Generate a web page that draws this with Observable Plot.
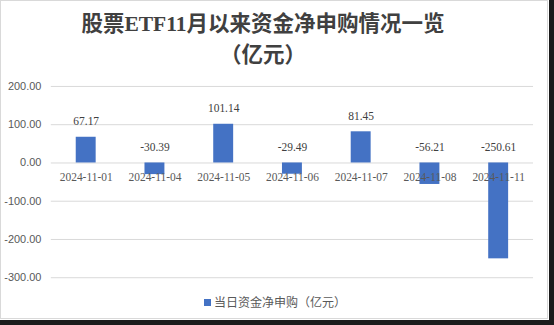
<!DOCTYPE html>
<html>
<head>
<meta charset="utf-8">
<script src="https://cdn.jsdelivr.net/npm/d3@7"></script>
<script src="https://cdn.jsdelivr.net/npm/@observablehq/plot@0.6"></script>
<style>
  html, body { margin: 0; padding: 0; }
  body { width: 554px; height: 325px; background: #1b1b1b; overflow: hidden; }
  #frame { position: absolute; left: 0; top: 0; width: 549px; height: 320px; background: #fff; }
  #card { position: absolute; left: 0; top: 0; width: 548px; height: 319px; box-sizing: border-box;
          border: 1px solid #d9d9d9; background: #fff; }
  .title { position: absolute; left: 0; width: 524px; text-align: center; color: #404040;
           font-family: "Liberation Serif", "Noto Sans CJK SC", sans-serif; font-weight: bold; font-size: 21.5px; line-height: 26px; }
  #chart { position: absolute; left: 0; top: 70px; }
  #legend { position: absolute; left: 203px; top: 293px; font-family: "Noto Sans CJK SC", sans-serif;
            font-size: 12px; color: #595959; line-height: 16px; display: flex; align-items: center; }
  #legend .sw { width: 7px; height: 7px; background: #4472C4; margin-right: 3px; }
</style>
</head>
<body>
<div id="frame"><div id="card">
  <div class="title" style="top:10px">股票ETF11月以来资金净申购情况一览</div>
  <div class="title" style="top:41px">（亿元）</div>
  <div id="chart"></div>
  <div id="legend"><span class="sw"></span><span>当日资金净申购（亿元）</span></div>
</div></div>
<script>
// Trading days in November and the net subscription of equity ETFs (100 million yuan)
const dates = ["2024-11-01", "2024-11-04", "2024-11-05", "2024-11-06", "2024-11-07", "2024-11-08", "2024-11-11"];
const flows = [67.17, -30.39, 101.14, -29.49, 81.45, -56.21, -250.61];
const yTicks = [200, 100, 0, -100, -200, -300];

const rows = dates.map((date, i) => ({date, value: flows[i]}));
const fmt = d => d.toFixed(2);

const chart = Plot.plot({
  width: 548,
  height: 220,
  marginLeft: 50,
  marginRight: 14,
  marginTop: 15,
  marginBottom: 13,
  style: {fontFamily: "Liberation Sans, sans-serif", background: "transparent"},
  x: {type: "band", domain: dates, paddingInner: 0.71, paddingOuter: 0.355, axis: null},
  y: {domain: [-300, 200], axis: null},
  marks: [
    Plot.gridY(yTicks, {stroke: "#d9d9d9", strokeOpacity: 1, strokeWidth: 1}),
    Plot.axisY(yTicks, {tickSize: 0, tickPadding: 10, tickFormat: fmt, label: null, fill: "#595959",
                        fontSize: 11, fontFamily: "Liberation Sans, sans-serif"}),
    Plot.barY(rows, {x: "date", y: "value", fill: "#4472C4"}),
    Plot.text(rows, {x: "date", y: 0, dy: 14, text: "date", fill: "#595959", fontSize: 11.5,
                     fontFamily: "Liberation Serif, serif"}),
    Plot.text(rows, {x: "date", y: d => Math.max(0, d.value), dy: -16, text: d => fmt(d.value),
                     fill: "#404040", fontSize: 11.5, fontFamily: "Liberation Serif, serif",
                     letterSpacing: "0.5px"})
  ]
});
document.getElementById("chart").append(chart);
</script>
</body>
</html>
